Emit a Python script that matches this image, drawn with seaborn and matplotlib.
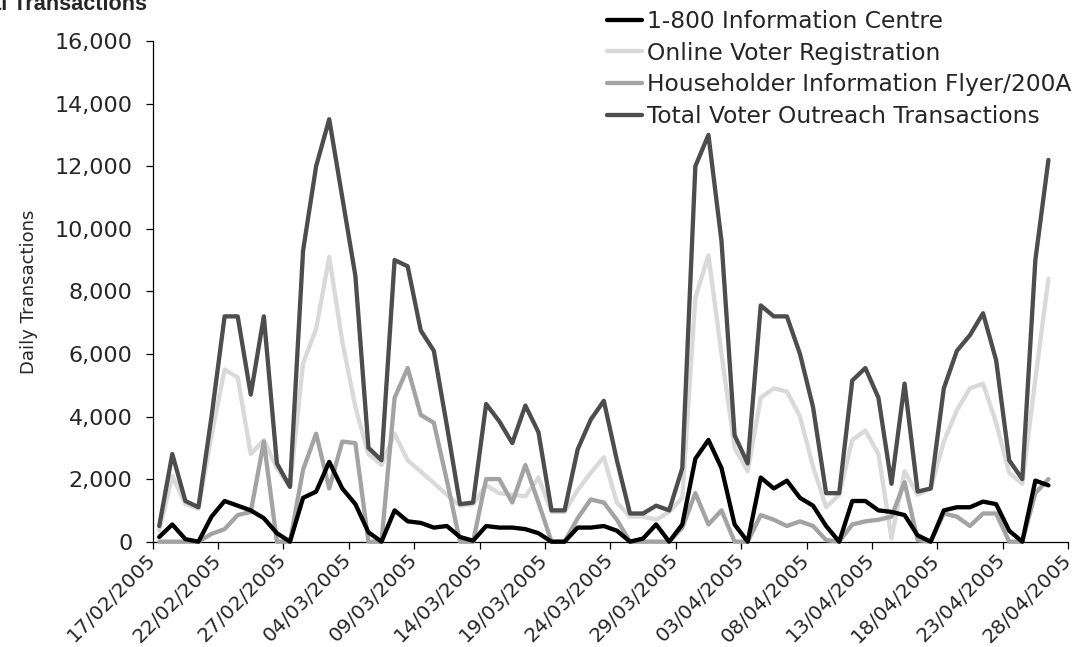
import matplotlib
matplotlib.use('Agg')
import matplotlib.pyplot as plt
import pandas as pd
import seaborn as sns
from matplotlib.ticker import FuncFormatter

# daily values, one per day starting 17/02/2005
info_centre = [150, 550, 80, 0, 800, 1300, 1150, 1000, 750, 270,
               0, 1400, 1600, 2550, 1700, 1200, 300, 0, 1000, 650,
               600, 450, 500, 150, 30, 500, 450, 450, 400, 270,
               0, 0, 450, 450, 500, 350, 0, 100, 550, 0,
               550, 2650, 3250, 2350, 550, 0, 2050, 1700, 1950, 1400,
               1150, 500, 0, 1300, 1300, 1000, 950, 850, 200, 0,
               1000, 1100, 1100, 1280, 1200, 350, 0, 1950, 1800]
online_reg = [350, 2100, 1200, 1050, 3400, 5500, 5250, 2800, 3250, 2350,
              1750, 5700, 6800, 9100, 6400, 4300, 2800, 2450, 3450, 2600,
              2240, 1870, 1500, 1150, 1200, 1800, 1550, 1500, 1450, 2050,
              950, 950, 1650, 2200, 2700, 1250, 800, 800, 700, 950,
              1400, 7800, 9150, 6000, 3000, 2250, 4600, 4900, 4800, 4000,
              2400, 1100, 1500, 3250, 3550, 2800, 100, 2250, 1500, 1700,
              3200, 4200, 4900, 5050, 3800, 2200, 1850, 5200, 8400]
householder = [0, 0, 0, 0, 250, 400, 850, 950, 3200, 0,
               0, 2300, 3450, 1700, 3200, 3150, 0, 0, 4600, 5550,
               4050, 3800, 1950, 0, 0, 2000, 2000, 1250, 2450, 1250,
               0, 0, 750, 1350, 1250, 700, 0, 0, 0, 0,
               450, 1550, 550, 1000, 0, 0, 850, 700, 500, 650,
               500, 50, 0, 550, 650, 700, 800, 1900, 50, 0,
               900, 800, 500, 900, 900, 0, 0, 1550, 2000]
total_outreach = [500, 2800, 1300, 1100, 4000, 7200, 7200, 4700, 7200, 2500,
                  1750, 9300, 12000, 13500, 11000, 8500, 3000, 2600, 9000, 8800,
                  6750, 6100, 3700, 1200, 1250, 4400, 3850, 3150, 4350, 3500,
                  1000, 1000, 2950, 3900, 4500, 2600, 900, 900, 1150, 1000,
                  2350, 12000, 13000, 9600, 3400, 2500, 7550, 7200, 7200, 6000,
                  4300, 1550, 1550, 5150, 5550, 4600, 1850, 5050, 1600, 1700,
                  4900, 6100, 6600, 7300, 5800, 2600, 2000, 9000, 12200]

series_names = ['1-800 Information Centre', 'Online Voter Registration',
                'Householder Information Flyer/200A', 'Total Voter Outreach Transactions']
series_colors = ['#000000', '#d9d9d9', '#a3a3a3', '#4d4d4d']

tick_labels = ['17/02/2005', '22/02/2005', '27/02/2005', '04/03/2005', '09/03/2005',
               '14/03/2005', '19/03/2005', '24/03/2005', '29/03/2005', '03/04/2005',
               '08/04/2005', '13/04/2005', '18/04/2005', '23/04/2005', '28/04/2005']

sns.set_style('ticks')
plt.rcParams['font.family'] = ['DejaVu Sans']

# each day is plotted at noon so points sit between the date ticks
days = pd.date_range('2005-02-17 12:00', periods=len(total_outreach), freq='D')
df = pd.DataFrame({'date': days,
                   series_names[0]: info_centre,
                   series_names[1]: online_reg,
                   series_names[2]: householder,
                   series_names[3]: total_outreach})

fig = plt.figure(figsize=(10.76, 6.47), dpi=100)
ax = fig.add_axes([0.1419, 0.1628, 0.8507, 0.7738])

# black line goes on top, the rest underneath
for k, z in zip([1, 2, 3, 0], [2, 3, 4, 5]):
    sns.lineplot(x='date', y=series_names[k], data=df, ax=ax, color=series_colors[k],
                 lw=3.1, zorder=z, clip_on=False, label=series_names[k])

if ax.get_legend() is not None:
    ax.get_legend().remove()

ax.set_xlim(pd.Timestamp('2005-02-17'), pd.Timestamp('2005-04-28'))
ax.set_ylim(0, 16000)
ax.set_yticks(range(0, 16001, 2000))
ax.yaxis.set_major_formatter(FuncFormatter(lambda v, p: f'{int(v):,}'))
ax.tick_params(axis='y', labelsize=16, length=5, width=0.9, pad=9.5, color='black')

tick_dates = pd.date_range('2005-02-17', '2005-04-28', freq='5D')
ax.set_xticks(tick_dates)
ax.set_xticklabels(tick_labels, rotation=45, ha='right', va='center',
                   rotation_mode='anchor', fontsize=14.5)
ax.tick_params(axis='x', length=5, width=0.9, pad=6, color='black')

ax.set_xlabel('')
ax.set_ylabel('Daily Transactions', fontsize=13, labelpad=12)
sns.despine(ax=ax)
for s in ['left', 'bottom']:
    ax.spines[s].set_color('black')
    ax.spines[s].set_linewidth(0.9)

handles, labels = ax.get_legend_handles_labels()
order = [labels.index(n) for n in series_names]
fig.legend([handles[i] for i in order], [labels[i] for i in order],
           loc='upper left', bbox_to_anchor=(607 / 1076, 1 - 10 / 647),
           frameon=False, fontsize=16.8, handlelength=1.5, handletextpad=0.2,
           labelspacing=0.37, borderpad=0, borderaxespad=0)

# the chart title sits mostly above the picture's top edge, as in the source
fig.text(147 / 1076, 1 - 9.5 / 647, 'Total Transactions', ha='right', va='baseline',
         fontsize=15.6, fontweight='bold',
         family=['Liberation Sans Narrow', 'Liberation Sans', 'DejaVu Sans'])

fig.savefig('out.png', dpi=100)
